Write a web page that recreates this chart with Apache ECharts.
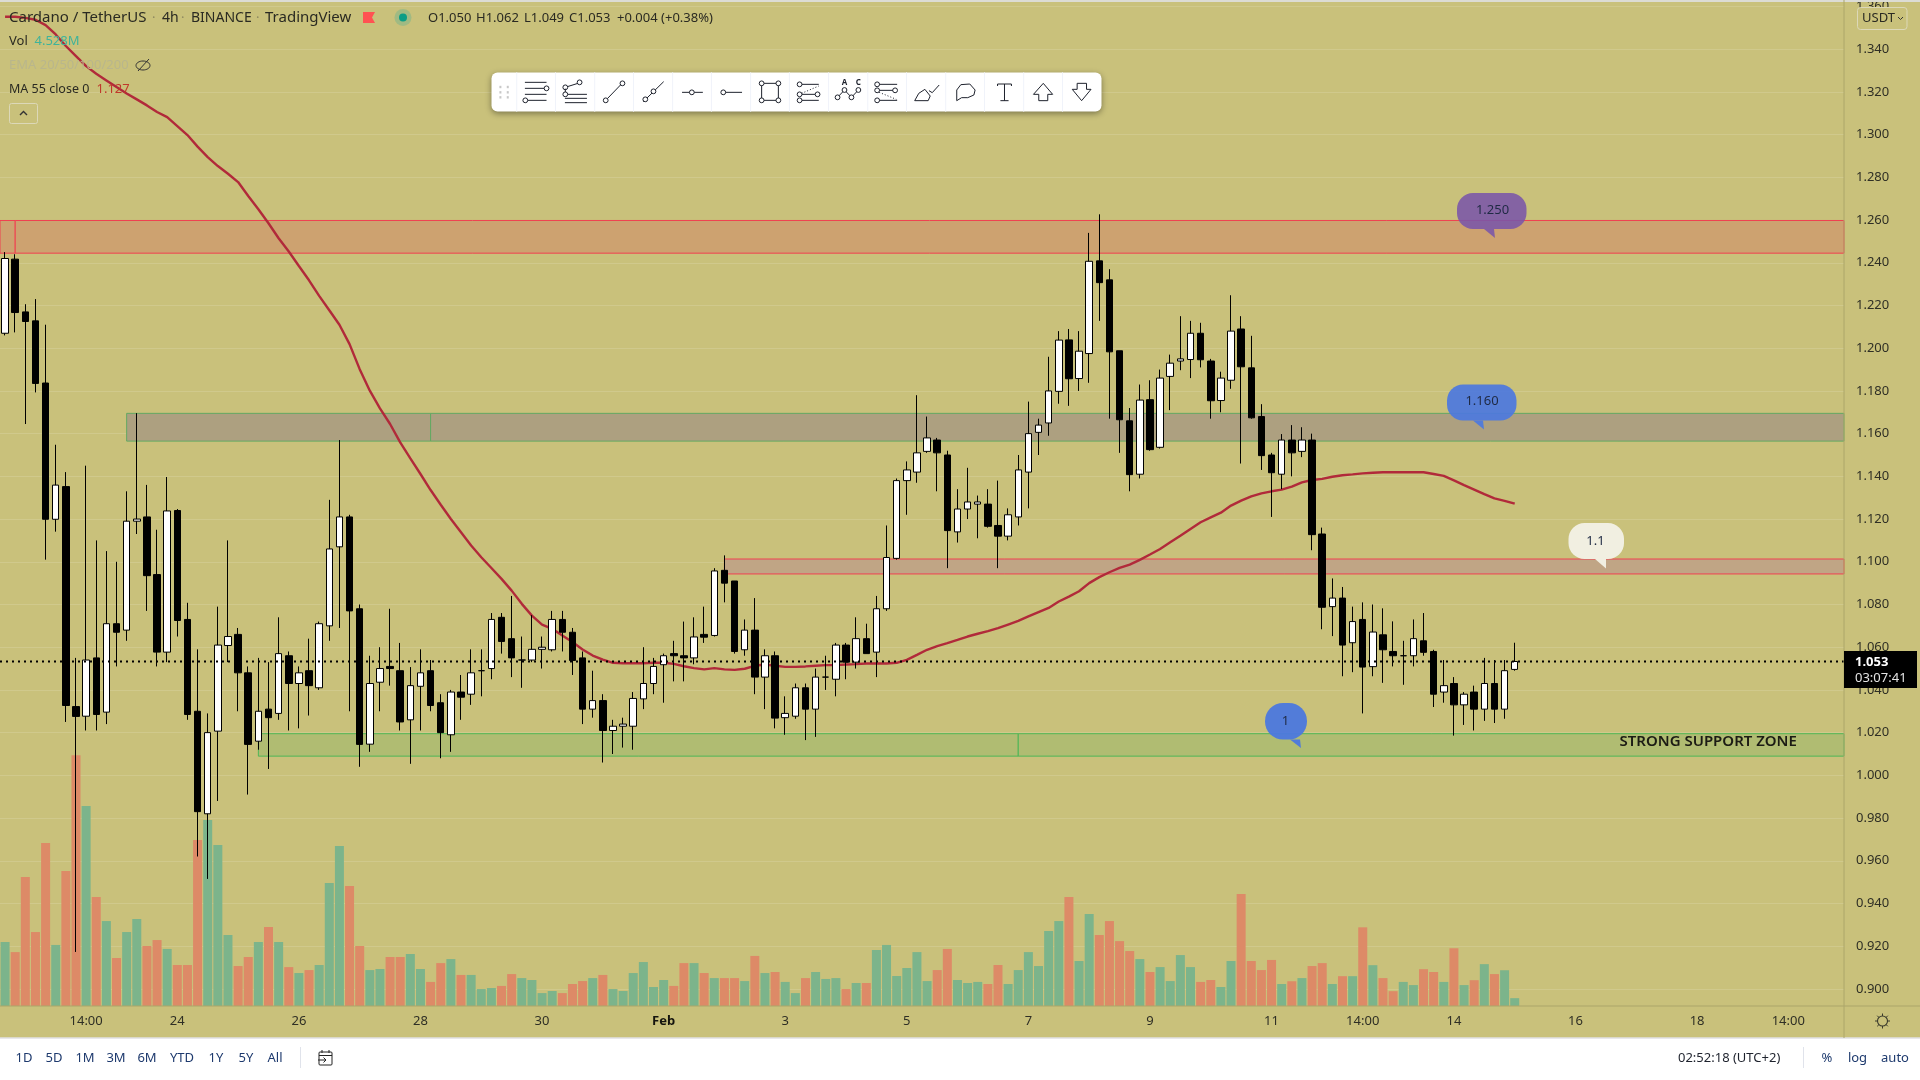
<!DOCTYPE html>
<html><head><meta charset="utf-8">
<style>html,body{margin:0;padding:0;background:#fff}#c{width:1920px;height:1080px}</style>
<script src="https://cdn.jsdelivr.net/npm/echarts@6/dist/echarts.min.js"></script>
</head><body><div id="c"></div>
<script>
const opens=[1.207,1.2417,1.217,1.2128,1.1837,1.1199,1.1352,1.0322,1.0277,1.055,1.0296,1.071,1.068,1.119,1.121,1.094,1.0577,1.124,1.073,1.03,0.982,1.0207,1.0608,1.066,1.048,1.016,1.031,1.029,1.056,1.043,1.049,1.041,1.07,1.107,1.121,1.078,1.0146,1.0436,1.051,1.049,1.026,1.0417,1.049,1.034,1.019,1.039,1.038,1.049,1.05,1.074,1.064,1.054,1.054,1.059,1.0588,1.073,1.067,1.055,1.031,1.035,1.021,1.023,1.023,1.0358,1.043,1.0518,1.057,1.056,1.055,1.066,1.0655,1.096,1.091,1.0588,1.068,1.046,1.056,1.027,1.0277,1.041,1.031,1.046,1.045,1.061,1.053,1.064,1.0577,1.078,1.1016,1.138,1.142,1.1517,1.157,1.15,1.114,1.1247,1.127,1.127,1.117,1.112,1.121,1.142,1.1606,1.165,1.1798,1.2039,1.1858,1.1975,1.2409,1.232,1.1988,1.166,1.141,1.1759,1.1536,1.1868,1.194,1.1947,1.207,1.194,1.1755,1.185,1.209,1.1908,1.168,1.15,1.141,1.157,1.1517,1.157,1.113,1.079,1.083,1.0621,1.073,1.0509,1.0658,1.058,1.056,1.056,1.063,1.058,1.039,1.043,1.033,1.039,1.031,1.043,1.031,1.0496];
const closes=[1.242,1.2167,1.2125,1.1835,1.1199,1.1359,1.0327,1.0276,1.054,1.0285,1.071,1.067,1.119,1.12,1.0935,1.0577,1.1238,1.0725,1.0285,0.983,1.02,1.061,1.065,1.048,1.0145,1.03,1.027,1.057,1.043,1.048,1.042,1.071,1.106,1.121,1.077,1.0145,1.043,1.05,1.05,1.025,1.042,1.048,1.0327,1.02,1.039,1.0366,1.048,1.049,1.073,1.0627,1.055,1.054,1.059,1.06,1.073,1.067,1.0538,1.031,1.035,1.021,1.023,1.024,1.036,1.043,1.051,1.056,1.056,1.055,1.0648,1.0647,1.0957,1.09,1.058,1.068,1.046,1.056,1.0268,1.029,1.041,1.031,1.046,1.046,1.061,1.053,1.064,1.057,1.078,1.102,1.138,1.143,1.151,1.158,1.151,1.1146,1.1247,1.128,1.128,1.1166,1.112,1.122,1.143,1.16,1.164,1.18,1.2038,1.1857,1.1986,1.2407,1.2307,1.1983,1.1665,1.1408,1.1757,1.1525,1.186,1.193,1.195,1.207,1.1946,1.1754,1.186,1.208,1.1913,1.1674,1.1497,1.1417,1.157,1.151,1.157,1.1127,1.0787,1.083,1.061,1.072,1.0507,1.0671,1.0588,1.056,1.056,1.064,1.0576,1.038,1.042,1.033,1.038,1.031,1.043,1.031,1.049,1.0533];
const lows=[1.206,1.2074,1.1645,1.1793,1.101,1.1141,1.025,0.9173,1.021,1.021,1.024,1.051,1.063,1.113,1.077,1.051,1.053,1.065,1.026,0.962,0.9515,0.988,1.053,1.03,0.991,1.012,1.003,1.026,1.021,1.022,1.028,1.04,1.063,1.069,1.03,1.004,1.011,1.03,1.042,1.021,1.0054,1.021,1.03,1.008,1.011,1.026,1.033,1.037,1.045,1.057,1.046,1.041,1.053,1.05,1.058,1.058,1.047,1.024,1.027,1.006,1.01,1.013,1.012,1.031,1.038,1.034,1.044,1.044,1.052,1.062,1.065,1.081,1.057,1.056,1.038,1.031,1.022,1.019,1.0265,1.0165,1.018,1.04,1.037,1.045,1.05,1.057,1.046,1.077,1.101,1.122,1.137,1.151,1.133,1.097,1.109,1.12,1.111,1.116,1.097,1.11,1.117,1.125,1.15,1.159,1.174,1.173,1.18,1.1838,1.2128,1.167,1.151,1.133,1.139,1.152,1.153,1.171,1.1897,1.186,1.191,1.167,1.17,1.181,1.146,1.167,1.143,1.121,1.134,1.14,1.149,1.1054,1.0684,1.0652,1.0464,1.0483,1.029,1.0464,1.0433,1.051,1.0424,1.051,1.056,1.032,1.034,1.0186,1.0236,1.021,1.0255,1.0245,1.0265,1.049];
const highs=[1.245,1.244,1.2206,1.223,1.211,1.1548,1.142,1.055,1.145,1.11,1.105,1.1,1.133,1.1696,1.136,1.115,1.1397,1.1247,1.0808,1.059,1.029,1.079,1.11,1.069,1.051,1.055,1.053,1.074,1.058,1.051,1.064,1.072,1.129,1.157,1.122,1.08,1.056,1.06,1.078,1.062,1.0507,1.059,1.054,1.038,1.04,1.047,1.059,1.059,1.076,1.076,1.084,1.065,1.075,1.065,1.077,1.077,1.069,1.058,1.049,1.038,1.026,1.027,1.039,1.06,1.055,1.057,1.063,1.072,1.074,1.079,1.097,1.103,1.091,1.073,1.083,1.059,1.058,1.037,1.043,1.043,1.05,1.056,1.062,1.062,1.074,1.071,1.084,1.117,1.139,1.147,1.178,1.168,1.158,1.152,1.134,1.144,1.131,1.134,1.138,1.125,1.15,1.175,1.167,1.196,1.208,1.209,1.208,1.254,1.2627,1.237,1.1988,1.172,1.183,1.185,1.19,1.197,1.215,1.2128,1.2119,1.195,1.189,1.2248,1.215,1.2058,1.1738,1.151,1.1598,1.164,1.163,1.16,1.116,1.0922,1.0882,1.079,1.081,1.08,1.0782,1.0721,1.063,1.073,1.076,1.0588,1.054,1.046,1.039,1.042,1.055,1.054,1.054,1.0621];
const volumes=[36.7,30.9,73.9,42.4,93.4,35,77.4,143.8,114.6,62.5,48.7,27.5,42.4,49.9,34.4,37.8,32.7,23.5,23.5,95.1,106.6,92.3,40.7,22.9,28.1,36.7,45.3,36.7,22.3,18.9,20.6,23.5,70.5,91.7,68.8,34.4,20.6,21.2,28.1,28.1,29.8,21.2,13.8,24.6,26.9,17.8,17.8,9.7,10.3,11.5,18.3,16,14.9,7.4,8.6,7.4,12.6,14.3,16,17.8,9.7,8.6,18.9,25.2,10.9,14.9,11.5,24.6,24.6,18.9,16,16,16,14.3,28.7,18.9,19.5,13.8,7.4,16,19.5,15.5,16,9.7,13.2,13.2,32.1,35,17.2,21.8,30.9,14.3,20.6,32.7,14.9,13.2,13.8,12.6,23.5,12.6,20.6,30.9,22.9,43,48.7,62.5,25.8,52.7,40.7,48.7,37.2,31.5,26.9,19.5,22.3,14.3,29.2,22.3,13.8,14.9,10.9,25.8,64.2,25.8,20.6,26.4,12.6,14.2,16,22.9,24.6,12.6,17.1,17.1,45.1,23.4,16,8.5,13.8,12,21.1,19.5,13.8,33.1,12,14.8,24,18.3,20.5,4.5];
const ma55=[1.3552,1.3552,1.3547,1.3538,1.3513,1.3469,1.3415,1.3368,1.3321,1.3285,1.3254,1.3223,1.3193,1.3165,1.3137,1.3106,1.3082,1.304,1.2998,1.2944,1.2895,1.2853,1.2817,1.2778,1.2713,1.2651,1.2585,1.2515,1.2453,1.2385,1.2318,1.2245,1.2178,1.211,1.2019,1.1902,1.1801,1.1718,1.1645,1.1559,1.1484,1.1411,1.1336,1.1267,1.12,1.1138,1.1076,1.1021,1.0971,1.092,1.0865,1.0803,1.0748,1.0706,1.0686,1.0655,1.0624,1.0589,1.0561,1.0542,1.0527,1.0525,1.0525,1.0525,1.0527,1.0527,1.0522,1.0511,1.0502,1.0496,1.0502,1.0496,1.0494,1.0499,1.0513,1.0519,1.0513,1.0508,1.0508,1.051,1.0513,1.0516,1.0516,1.0519,1.0521,1.0524,1.0524,1.0524,1.0527,1.0541,1.0564,1.0588,1.0605,1.0619,1.0634,1.065,1.0663,1.0675,1.0689,1.0706,1.0723,1.0744,1.0764,1.0784,1.0814,1.0837,1.0862,1.09,1.0928,1.0951,1.0971,1.0987,1.1009,1.1034,1.106,1.1091,1.1122,1.1154,1.1185,1.1208,1.123,1.1263,1.1286,1.1306,1.132,1.133,1.1338,1.1352,1.1372,1.1383,1.1388,1.1398,1.1405,1.1409,1.1414,1.1417,1.1419,1.1419,1.1419,1.1419,1.1419,1.1411,1.1402,1.1381,1.1359,1.1338,1.1317,1.1297,1.1285,1.1272];
const priceTicks=[0.9,0.92,0.94,0.96,0.98,1.0,1.02,1.04,1.06,1.08,1.1,1.12,1.14,1.16,1.18,1.2,1.22,1.24,1.26,1.28,1.3,1.32,1.34,1.36];
const xTickBars=[8,17,29,41,53,65,77,89,101,113,125,134,143,155,167,176];
const xTickLabels=['14:00','24','26','28','30','Feb','3','5','7','9','11','14:00','14','16','18','14:00'];
const barSlots=182;
const lastPrice=1.0533;
const zoneRed1=[1.2598,1.2445];
const zoneGrey=[1.1695,1.1565];
const zoneRed2=[1.1013,1.0943];
const zoneGreen=[1.0195,1.009];

const categories=Array.from({length:barSlots},(_,i)=>String(i));
const labelAt={};xTickBars.forEach((b,k)=>labelAt[b]=xTickLabels[k]);
const ohlc=opens.map((o,i)=>[o,closes[i],lows[i],highs[i]]);
const UP='#7cb48b',DOWN='#dd8a67';
const volData=volumes.map((v,i)=>({value:v,itemStyle:{color:closes[i]>=opens[i]?UP:DOWN}}));

function zone(fromX,toX,range,fill,line){
  return [{xAxis:fromX,yAxis:range[0],itemStyle:{color:fill,opacity:1,borderColor:line,borderWidth:1}},{xAxis:toX,yAxis:range[1]}];
}
const RL='#f04050',GL='#63a862',GL2='#4fb757';
const zones=[
 zone(-1,1.5,zoneRed1,'#cda270',RL),zone(1.5,183,zoneRed1,'#cda270',RL),
 zone(12.5,42.5,zoneGrey,'#ada080',GL),zone(42.5,183,zoneGrey,'#ada080',GL),
 zone(71.5,183,zoneRed2,'#c0a585',RL),
 zone(25.5,100.5,zoneGreen,'#b0bc72',GL2),zone(100.5,183,zoneGreen,'#b0bc72',GL2)
];

/* chrome */
const Z=200,g=[];
const FF='"Noto Sans",sans-serif';
function T(text,x,y,o={}){g.push({type:'text',z:o.z||Z+2,x,y,silent:true,style:{text,fill:o.c||'#2a2a22',font:`${o.w||'normal'} ${o.s||13}px ${FF}`,textAlign:o.a||'left',textVerticalAlign:'middle'}});}
function L(x1,y1,x2,y2,c='#222',w=1,dash){g.push({type:'line',z:Z+1,silent:true,shape:{x1,y1,x2,y2},style:{stroke:c,lineWidth:w,lineDash:dash||null}});}
function R(x,y,w,h,o={}){g.push({type:'rect',z:o.z||Z,silent:true,shape:{x,y,width:w,height:h,r:o.r||0},style:{fill:o.f||'none',stroke:o.s||null,lineWidth:o.lw||1,opacity:o.o==null?1:o.o,shadowBlur:o.sb||0,shadowColor:o.sc||null,shadowOffsetY:o.sy||0}});}
function C(x,y,r,o={}){g.push({type:'circle',z:o.z||Z+1,silent:true,shape:{cx:x,cy:y,r},style:{fill:o.f||'#fff',stroke:o.s===undefined?'#222':o.s,lineWidth:o.lw||1,opacity:o.o==null?1:o.o}});}
function Pg(pts,o={}){g.push({type:o.open?'polyline':'polygon',z:o.z||Z+1,silent:true,shape:{points:pts},style:{fill:o.open?'none':(o.f||'none'),stroke:o.s||null,lineWidth:o.lw||1,opacity:o.o==null?1:o.o}});}

// frame
R(0,1038,1920,42,{f:'#ffffff'});
L(0,1038,1920,1038,'#e0e1e4',1.5);
L(0,1,1920,1,'#dcdcd4',2);
L(1844,0,1844,1038,'#aca66a',1);
L(0,1006,1920,1006,'#aca66a',1.2);

// header
T('Cardano / TetherUS',9,18,{s:15});
T('·',152,18,{c:'#8f8a60'});T('4h',162,18,{s:14});T('·',181,18,{c:'#8f8a60'});T('BINANCE',191,18,{s:14});T('·',256,18,{c:'#8f8a60'});T('TradingView',265,18,{s:15});
Pg([[363,12],[375,12],[372,17.5],[375,23],[363,23]],{f:'#ff5252'});
C(403,17.5,8.5,{f:'rgba(38,166,154,0.25)',s:null});C(403,17.5,4,{f:'#0c9d86',s:null});
T('O1.050',428,18);T('H1.062',476,18);T('L1.049',524,18);T('C1.053',569,18);T('+0.004 (+0.38%)',617,18);
T('Vol',9,41.5);T('4.528M',34.5,41.5,{c:'#3fb39a'});
T('EMA 20/50/100/200',9,65.5,{c:'#b9b68c'});
g.push({type:'ellipse',z:Z+1,silent:true,shape:{cx:143,cy:65.5,rx:7,ry:4.5},style:{fill:'none',stroke:'#333',lineWidth:1}});
L(138,71,149,59,'#333',1);
T('MA 55 close 0',9,89.5,{s:12.5});T('1.127',96.5,89.5,{c:'#c0392b'});
R(9.5,103.5,28,20,{s:'#dcd8b8',r:2,lw:1,z:Z+1});
Pg([[20,115],[23.5,111.5],[27,115]],{open:true,s:'#333',lw:1.4});

// toolbar
const P=(x,y)=>[480+x/2.45,60+y/3];
const tl=(a,b,c,d,o={})=>{const p=P(a,b),q=P(c,d);L(p[0],p[1],q[0],q[1],'#1e222d',o.w||1,o.dash);};
const tc=(a,b)=>{const p=P(a,b);C(p[0],p[1],2.4,{f:'#fff',s:'#1e222d'});};
R(491.5,72.5,610,39,{f:'#fff',r:6,sb:6,sc:'rgba(0,0,0,0.4)',sy:2});
[90,185,281,376,472,567,663,758,854,950,1045,1141,1236,1332,1427].forEach(x=>tl(x,37,x,155,{}) );
g.slice(-15).forEach(e=>{e.style.stroke='#f0f3fa';});
[50,68].forEach(x=>[81,97,112].forEach(y=>{const p=P(x,y);R(p[0]-1,p[1]-1.2,2,2.4,{f:'#c8c8c8',z:Z+1});}));
tl(110,67,163,67);tl(110,85,158,85);tc(163,85);tl(110,103,163,103);tl(117,121,163,121);tc(111,121);
tl(214,80,240,70);tc(244,67);tc(209,82);tl(209,86,209,99);tc(209,103);tl(215,103,262,103);tl(208,115,262,115);tl(208,128,262,128);
tl(312,116,345,74);tc(349,70);tc(308,121);
tl(400,125,450,65);tc(405,118);tc(425,94);
tl(495,97,546,97);tc(519,97);
tl(601,97,642,97);tc(596,97);
tl(690,70,731,70);tl(690,121,731,121);tl(690,70,690,121);tl(731,70,731,121);tc(690,70);tc(731,70);tc(690,121);tc(731,121);
tl(788,73,830,73);tl(788,121,830,121);tl(788,103,822,103);tl(788,100,830,78,{dash:[1,2]});tc(783,73);tc(783,103);tc(783,121);tc(827,103);
tl(876,112,893,90);tl(893,90,910,112);tl(910,112,927,90);tc(876,112);tc(893,90);tc(910,112);tc(927,90);
T('A',P(893,67)[0],P(893,67)[1],{s:8,w:'bold',a:'center',c:'#1e222d'});T('C',P(927,67)[0],P(927,67)[1],{s:8,w:'bold',a:'center',c:'#1e222d'});
tl(978,73,1022,73);tl(978,91,1012,91);tl(978,121,1022,121);tl(978,97,1020,118,{dash:[1,2]});tc(973,73);tc(973,91);tc(1017,91);tc(973,121);
Pg([P(1065,122),P(1098,122),P(1103,108),P(1090,88),P(1075,100),P(1065,122)],{s:'#1e222d'});
Pg([P(1100,92),P(1108,98),P(1125,75)],{open:true,s:'#1e222d'});
Pg([P(1168,122),P(1168,90),P(1178,74),P(1200,72),P(1213,90),P(1210,105),P(1195,113),P(1180,113),P(1168,122)],{s:'#1e222d'});
tl(1268,72,1302,72);tl(1285,72,1285,122);tl(1275,122,1295,122);tl(1268,72,1268,78);tl(1302,72,1302,78);
Pg([P(1380,70),P(1403,103),P(1391,103),P(1391,122),P(1369,122),P(1369,103),P(1356,103)],{s:'#1e222d',f:'#fff'});
Pg([P(1474,122),P(1497,88),P(1486,88),P(1486,70),P(1463,70),P(1463,88),P(1451,88)],{s:'#1e222d',f:'#fff'});

// callouts
function bubble(x1,y1,x2,y2,tail,fill,op,label,tx,ty,r){
  R(x1,y1,x2-x1,y2-y1,{f:fill,r:r||16,o:op});
  Pg(tail,{f:fill,o:op,z:Z});
  T(label,tx,ty,{a:'center',c:'#1f2a44'});
}
bubble(1457,193,1526.5,229,[[1484,229],[1494,229],[1495,238]],'#7a55a8',0.88,'1.250',1492.5,210);
bubble(1447,384.5,1516.5,420.5,[[1473,420.5],[1483,420.5],[1484,429.5]],'#4c78de',0.92,'1.160',1482,401.5);
bubble(1568.5,523,1624,559,[[1595,559],[1606,559],[1606,568.5]],'#f1efe1',1,'1.1',1595.5,541,);
bubble(1265,703,1307,739.5,[[1290,739.5],[1300,739.5],[1301,748]],'#4c78de',0.95,'1',1285.5,721,18);
T('STRONG SUPPORT ZONE',1619.5,741.5,{s:15,w:'600',c:'#1b1b14'});

// price label
R(1844,651,73,37,{f:'#000',z:Z+1});
T('1.053',1855,662,{c:'#fff',w:'bold',z:Z+3});
T('03:07:41',1855,678,{c:'#e4e4e4',z:Z+3});

// USDT
R(1857.5,7.5,49.5,22,{f:'#c9c17b',s:'#dcd8b8',r:3,lw:1,z:Z+1});
T('USDT',1862,18,{c:'#2a2a22'});
Pg([[1898,17],[1900.5,19.5],[1903,17]],{open:true,s:'#333',lw:1});

// gear
C(1882.5,1021,5,{f:'none',s:'#3a3a2c',lw:1.1});
[[0,-7.5,0,-5],[0,5,0,7.5],[-7.5,0,-5,0],[5,0,7.5,0],[-5.3,-5.3,-3.5,-3.5],[3.5,3.5,5.3,5.3],[-5.3,5.3,-3.5,3.5],[3.5,-3.5,5.3,-5.3]].forEach(d=>L(1882.5+d[0],1021+d[1],1882.5+d[2],1021+d[3],'#3a3a2c',1));

// bottom bar
['1D','5D','1M','3M','6M','YTD','1Y','5Y','All'].forEach((t,i)=>T(t,[24,54,85,116,147,182,216,246,275][i],1058,{a:'center',c:'#1e3a6e',s:13}));
L(300.5,1047,300.5,1068,'#e0e3eb',1);
R(319,1052,13,13,{s:'#222',r:1,lw:1,z:Z+1});L(319,1055.5,332,1055.5,'#222',1);L(322,1050,322,1053,'#222',1);L(329,1050,329,1053,'#222',1);
L(318,1060,326,1060,'#222',1);Pg([[323.5,1057.5],[326,1060],[323.5,1062.5]],{open:true,s:'#222'});
T('02:52:18 (UTC+2)',1678,1058,{c:'#1e222d'});
L(1803.5,1047,1803.5,1068,'#e0e3eb',1);
T('%',1827,1058,{a:'center',c:'#1e3a6e'});T('log',1857.5,1058,{a:'center',c:'#1e3a6e'});T('auto',1895,1058,{a:'center',c:'#1e3a6e'});

const option={
 animation:false,
 backgroundColor:'#c9c17b',
 textStyle:{fontFamily:FF},
 grid:{left:0,top:0,width:1844,height:1006,containLabel:false},
 xAxis:[
  {type:'category',data:categories,boundaryGap:true,axisLine:{show:false},axisTick:{show:false},splitLine:{show:false},
   axisLabel:{interval:0,margin:9,fontSize:13,color:'#2f2f25',fontFamily:FF,formatter:(v,i)=>labelAt[i]==='Feb'?'{b|Feb}':(labelAt[i]||''),rich:{b:{fontWeight:'bold',fontSize:13,color:'#14140e',fontFamily:FF}}}},
  {type:'value',min:0,max:barSlots,show:false,splitLine:{show:false}}
 ],
 yAxis:[
  {type:'value',position:'right',min:0.892,max:1.3625,axisLine:{show:false},
   axisTick:{show:false,customValues:priceTicks},
   splitLine:{show:true,lineStyle:{color:'rgba(255,255,255,0.13)',width:1}},
   axisLabel:{customValues:priceTicks,margin:12,fontSize:13,color:'#2f2f25',fontFamily:FF,align:'left',formatter:v=>v.toFixed(3)}},
  {type:'value',min:0,max:576,show:false,splitLine:{show:false}}
 ],
 series:[
  {name:'Zones',type:'line',xAxisIndex:1,yAxisIndex:0,z:1,data:[],clip:true,silent:true,symbol:'none',lineStyle:{opacity:0},
   markArea:{silent:true,z:1,data:zones}},
  {name:'Volume',type:'bar',xAxisIndex:0,yAxisIndex:1,z:2,data:volData,barWidth:9,silent:true},
  {name:'MA 55',type:'line',xAxisIndex:0,yAxisIndex:0,z:3,data:ma55,symbol:'none',silent:true,lineStyle:{color:'#b12a3a',width:2.4}},
  {name:'ADA/USDT',type:'candlestick',xAxisIndex:0,yAxisIndex:0,z:4,data:ohlc,barWidth:7,silent:true,
   itemStyle:{color:'#ffffff',color0:'#000000',borderColor:'#000000',borderColor0:'#000000',borderColorDoji:'#000000',borderWidth:1}},
  {name:'Last',type:'line',xAxisIndex:1,yAxisIndex:0,z:5,data:[[0,lastPrice],[barSlots,lastPrice]],symbol:'none',silent:true,
   lineStyle:{color:'#000',width:2,type:[2,4]}}
 ],
 graphic:{elements:g}
};
const chart=echarts.init(document.getElementById('c'),null,{renderer:'canvas',width:1920,height:1080});
chart.setOption(option);
</script></body></html>
